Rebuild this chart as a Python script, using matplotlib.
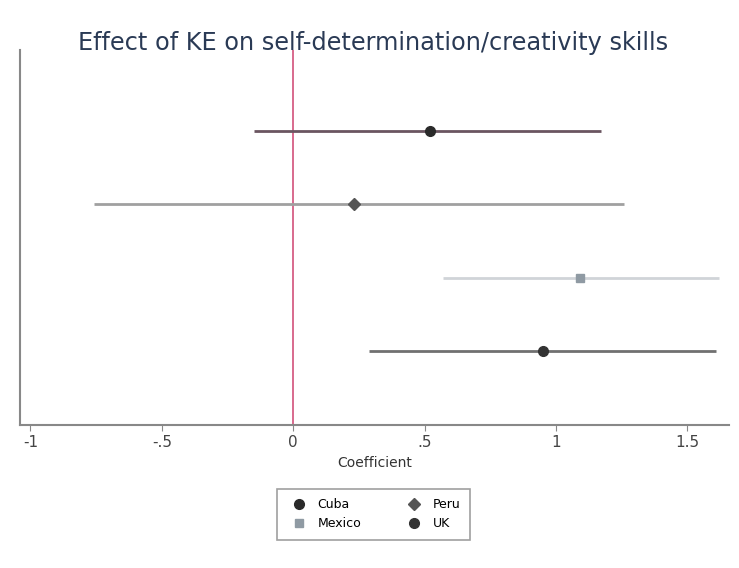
import numpy as np
import matplotlib
matplotlib.use("Agg")
from matplotlib import pyplot as plt

# coefficient estimates with 95% confidence bounds, top row first
groups = ["Cuba", "Peru", "Mexico", "UK"]
coef = [0.52, 0.23, 1.09, 0.95]
ci_low = [-0.15, -0.76, 0.57, 0.29]
ci_high = [1.17, 1.26, 1.62, 1.61]
rows = [4, 3, 2, 1]

xticks = [-1, -0.5, 0, 0.5, 1, 1.5]
xtick_labels = ["-1", "-.5", "0", ".5", "1", "1.5"]

line_colors = ["#6a5560", "#a0a0a0", "#d0d4d8", "#707070"]
marker_colors = ["#2a2a2a", "#555555", "#8f9aa3", "#333333"]
markers = ["o", "D", "s", "o"]


def main():
    fig = plt.figure(figsize=(7.39, 5.68), dpi=100)
    ax = fig.add_axes([0.027, 0.252, 0.96, 0.66])

    ax.axvline(0, color="#d2507a", lw=1.2, zorder=1)
    for i in range(len(groups)):
        ax.plot([ci_low[i], ci_high[i]], [rows[i], rows[i]],
                color=line_colors[i], lw=2, zorder=2, solid_capstyle="butt")
        ax.plot(coef[i], rows[i], marker=markers[i], ms=7 if markers[i] == "o" else 6,
                color=marker_colors[i], ls="none", zorder=3, label=groups[i])

    ax.set_xlim(-1.04, 1.66)
    ax.set_ylim(0, 5.1)
    ax.set_xticks(xticks)
    ax.set_xticklabels(xtick_labels, fontsize=11, color="#444444")
    ax.set_yticks([])
    ax.tick_params(axis="x", length=4, color="#888888")
    for side in ["top", "right"]:
        ax.spines[side].set_visible(False)
    for side in ["left", "bottom"]:
        ax.spines[side].set_color("#888888")
        ax.spines[side].set_linewidth(1.5)

    ax.set_xlabel("Coefficient", fontsize=10, color="#333333", labelpad=4)
    fig.text(0.505, 0.924, "Effect of KE on self-determination/creativity skills",
             ha="center", va="center", fontsize=17.3, color="#2a3a55")

    # legend filled row by row: Cuba, Peru / Mexico, UK
    handles, labels = ax.get_legend_handles_labels()
    order = [0, 2, 1, 3]
    leg = fig.legend([handles[k] for k in order], [labels[k] for k in order],
                     ncol=2, loc="center", bbox_to_anchor=(0.505, 0.095), fontsize=9,
                     frameon=True, fancybox=False, edgecolor="#888888",
                     columnspacing=3.2, handletextpad=0.5, borderpad=0.75)
    leg.get_frame().set_linewidth(1.2)

    fig.savefig("out.png", dpi=100, facecolor="white")


if __name__ == '__main__':
    main()
